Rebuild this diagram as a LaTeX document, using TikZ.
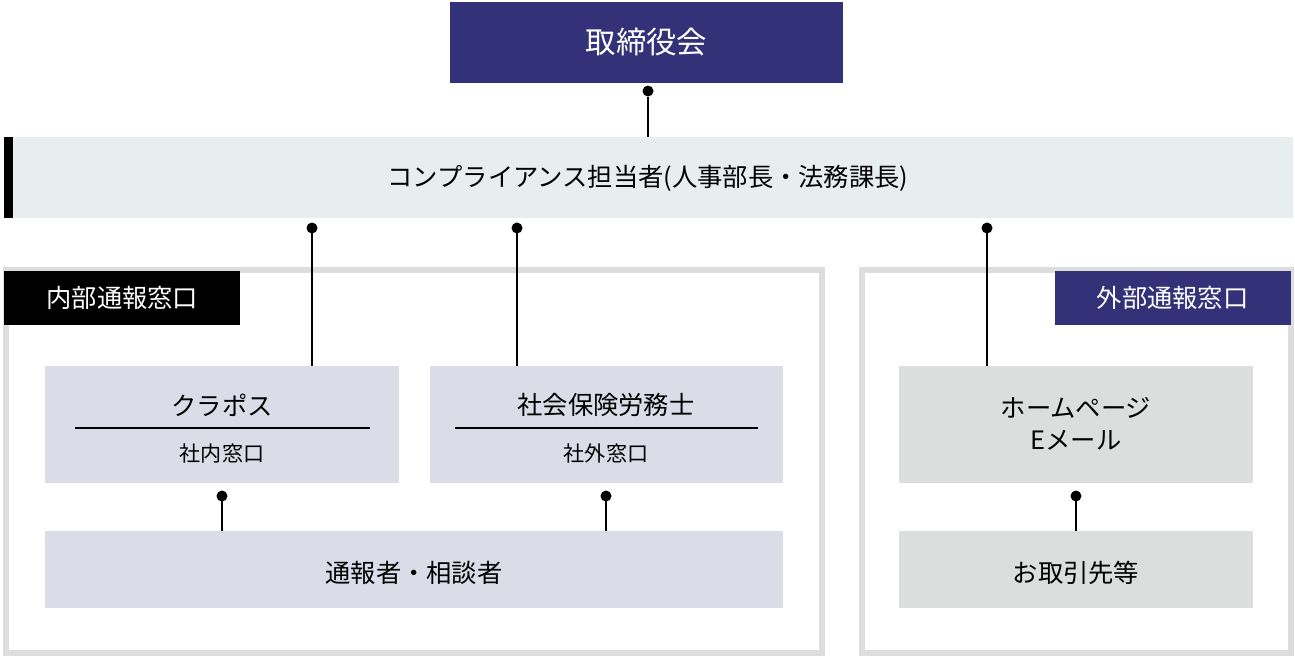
\documentclass[tikz,border=0pt]{standalone}
\usepackage{fontspec}
\setmainfont{Noto Sans CJK JP}
\definecolor{navy}{RGB}{51,49,120}
\definecolor{band}{RGB}{232,238,238}
\definecolor{lilac}{RGB}{220,220,232}
\definecolor{grayb}{RGB}{220,221,221}
\definecolor{frame}{RGB}{221,221,221}
\tikzstyle{box} = [draw=none,minimum height=1.54cm,text width=7.08cm,align=center,font=\large]
\tikzstyle{tag} = [minimum width=4.72cm,minimum height=1.08cm,text=white,font=\Large]
\tikzstyle{dotline} = [line width=0.7pt]
\tikzstyle{pin} = [circle,fill=black,inner sep=0pt,minimum size=0.22cm]

\begin{document}
\begin{tikzpicture}[x=0.02cm,y=-0.02cm]
        \useasboundingbox (0,0) rectangle (1295,657);
        % frames
        \draw[frame, line width=3pt] (6,270) rectangle (822,653);
        \draw[frame, line width=3pt] (862,270) rectangle (1291,653);
        \node[tag, fill=black, anchor=north west] at (4,271) (intag) {内部通報窓口};
        \node[tag, fill=navy, anchor=north east] at (1291,271) (extag) {外部通報窓口};

        % top
        \fill[navy] (450,2) rectangle (843,83);
        \node[text=white, font=\LARGE] at (646.5,42.5) (board) {取締役会};
        \fill[band] (4,137) rectangle (1293,218);
        \fill[black] (4,137) rectangle (13,218);
        \node[font=\Large] at (648,178) (officer) {コンプライアンス担当者(人事部長・法務課長)};

        % boxes
        \fill[lilac] (45,366) rectangle (399,483);
        \fill[lilac] (430,366) rectangle (783,483);
        \fill[lilac] (45,531) rectangle (783,608);
        \fill[grayb] (899,366) rectangle (1253,483);
        \fill[grayb] (899,531) rectangle (1253,608);
        \node[font=\Large] at (222,405) (krapos) {クラポス};
        \node[font=\large] at (222,453) (krapossub) {社内窓口};
        \draw[line width=1pt] (75,428) -- (370,428);
        \node[font=\Large] at (606,405) (sharo) {社会保険労務士};
        \node[font=\large] at (606,453) (sharosub) {社外窓口};
        \draw[line width=1pt] (455,428) -- (758,428);
        \node[font=\Large] at (414,573) (reporter) {通報者・相談者};
        \node[font=\Large, align=center] at (1076,424) (web) {ホームページ\\Eメール};
        \node[font=\Large] at (1076,573) (client) {お取引先等};

        % connectors
        \node[pin] at (648,91) (p0) {};
        \draw[dotline] (p0) -- (648,137);
        \foreach \x in {312,517,987} {
            \node[pin] at (\x,228) {};
            \draw[dotline] (\x,228) -- (\x,366);
        }
        \foreach \x in {222,606,1076} {
            \node[pin] at (\x,496) {};
            \draw[dotline] (\x,496) -- (\x,531);
        }
    \end{tikzpicture}
\end{document}
